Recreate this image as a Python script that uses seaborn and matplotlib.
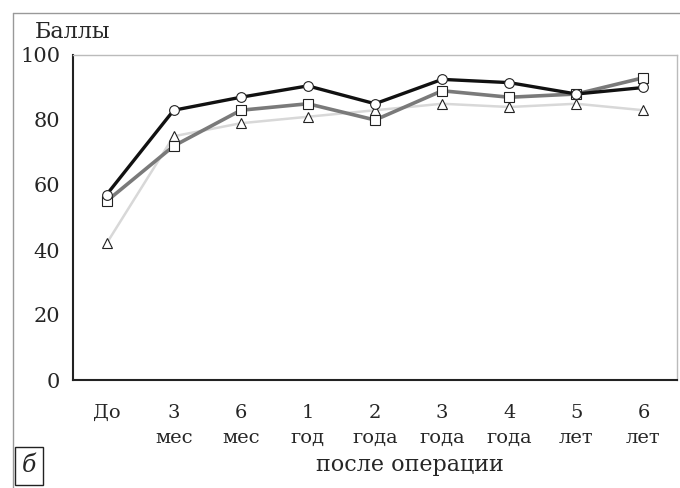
import matplotlib
matplotlib.use("Agg")
import matplotlib.pyplot as plt
import seaborn as sns
import numpy as np
import pandas as pd

categories = ["До", "3\nмес", "6\nмес", "1\nгод", "2\nгода", "3\nгода", "4\nгода", "5\nлет", "6\nлет"]
circle_vals = [57, 83, 87, 90.5, 85, 92.5, 91.5, 88, 90]
square_vals = [55, 72, 83, 85, 80, 89, 87, 88, 93]
triangle_vals = [42, 75, 79, 81, 83, 85, 84, 85, 83]
y_ticks = [0, 20, 40, 60, 80, 100]

sns.set_style("white")
plt.rcParams['font.family'] = ['DejaVu Serif']

fig = plt.figure(figsize=(6.8, 4.88), dpi=100)
ax = fig.add_axes([73 / 680, 108 / 488, 604 / 680, 325 / 488])

x = np.arange(len(categories))
df = pd.DataFrame({"x": x, "circle": circle_vals, "square": square_vals, "triangle": triangle_vals})

series = [
    ("triangle", "#d8d8d8", 1.8, "^", 1),
    ("square", "#7a7a7a", 2.6, "s", 2),
    ("circle", "#111111", 2.4, "o", 3),
]
for col, color, lw, marker, z in series:
    sns.lineplot(data=df, x="x", y=col, ax=ax, color=color, linewidth=lw,
                 marker=marker, markersize=7, markerfacecolor="white",
                 markeredgecolor="#222222", markeredgewidth=0.8, zorder=z)

ax.set_xlim(-0.5, len(categories) - 0.5)
ax.set_ylim(0, 100)
ax.set_xticks(x)
ax.set_xticklabels(categories, fontsize=14, linespacing=1.5)
ax.set_xticks(np.arange(-0.5, len(categories)), minor=True)
ax.tick_params(axis="x", which="major", length=0, pad=17)
ax.tick_params(axis="x", which="minor", length=6, width=1.2, direction="out", color="#222222")
ax.set_yticks(y_ticks)
ax.set_yticklabels([str(v) for v in y_ticks], fontsize=15)
ax.tick_params(axis="y", length=6, width=1.2, direction="out", color="#222222", pad=3)
ax.set_xlabel("")
ax.set_ylabel("")

for side in ["left", "bottom"]:
    ax.spines[side].set_color("#222222")
    ax.spines[side].set_linewidth(1.5)
for side in ["top", "right"]:
    ax.spines[side].set_color("#bbbbbb")
    ax.spines[side].set_linewidth(1.0)

fig.text(35 / 680, 1 - 32 / 488, "Баллы", fontsize=16, va="center", ha="left")
fig.text(410 / 680, 1 - 465 / 488, "после операции", fontsize=16, va="center", ha="center")
fig.text(29 / 680, 1 - 466 / 488, "б", fontsize=17, va="center", ha="center", style="italic",
         bbox=dict(boxstyle="square,pad=0.3", facecolor="white", edgecolor="#222222", linewidth=1))

# outer frame
fig.add_artist(plt.Line2D([13 / 680, 13 / 680], [0, 1 - 13 / 488], color="#999999", linewidth=1))
fig.add_artist(plt.Line2D([13 / 680, 1], [1 - 13 / 488, 1 - 13 / 488], color="#999999", linewidth=1))

fig.savefig("out.png", dpi=100)
